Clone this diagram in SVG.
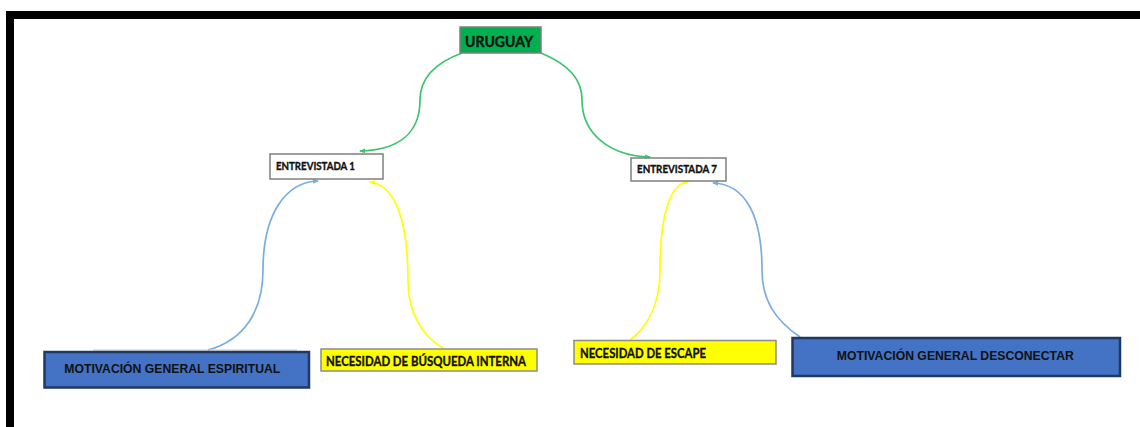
<svg xmlns="http://www.w3.org/2000/svg" width="1140" height="427" viewBox="0 0 1140 427">
<style>
.lbl{font-family:"Lato","Liberation Sans",sans-serif;font-weight:bold;fill:#111;stroke:#111;stroke-width:0.35}
.arl{font-family:"Liberation Sans",Arial,sans-serif;font-weight:bold;fill:#111}
.wbox{fill:#fff;stroke:#7f7f7f;stroke-width:1.5}
.ybox{fill:#ffff00;stroke:#8c8c8c;stroke-width:1.5}
.bbox{fill:#4472c4;stroke:#1f3864;stroke-width:2.5}
.c{fill:none;stroke-width:1.7}
.g{stroke:#3cc46e}
.b{stroke:#7aaee0}
.y{stroke:#ffff00}
</style>
<defs>
<marker id="ag" markerUnits="userSpaceOnUse" markerWidth="6" markerHeight="6" viewBox="0 0 6 6" refX="5" refY="3" orient="auto"><path d="M0,0.5 L6,3 L0,5.5 z" fill="#3cc46e"/></marker>
<marker id="ab" markerUnits="userSpaceOnUse" markerWidth="6" markerHeight="6" viewBox="0 0 6 6" refX="5" refY="3" orient="auto"><path d="M0,0.5 L6,3 L0,5.5 z" fill="#7aaee0"/></marker>
<marker id="ay" markerUnits="userSpaceOnUse" markerWidth="6" markerHeight="6" viewBox="0 0 6 6" refX="5" refY="3" orient="auto"><path d="M0,0.5 L6,3 L0,5.5 z" fill="#ffff00"/></marker>
</defs>
<rect width="1140" height="427" fill="#fff"/>
<g id="frame">
<rect x="6" y="11" width="1134" height="8" fill="#000"/>
<rect x="6" y="11" width="8" height="416" fill="#000"/>
</g>
<g id="connectors">
<path class="c g" d="M462,53 C432,64 420,80 420,100 C420,132 400,150 360,151" marker-end="url(#ag)"/>
<path class="c g" d="M541,53 C570,65 582,80 582,100 C582,134 610,156 650,157" marker-end="url(#ag)"/>
<path class="c b" d="M208,350 C245,340 263,310 263,270 C263,215 285,182 318,181" marker-end="url(#ab)"/>
<path class="c y" d="M443,348 C420,335 408,310 408,280 C408,220 395,185 370,182" marker-end="url(#ay)"/>
<path class="c y" d="M630,340 C650,325 660,300 660,270 C660,215 670,183 688,182" marker-end="url(#ay)"/>
<path class="c b" d="M800,337 C775,320 762,300 762,270 C762,215 745,184 713,183" marker-end="url(#ab)"/>
</g>
<g id="uruguay">
<rect x="460" y="27" width="81" height="26" fill="#00b050" stroke="#7f7f7f" stroke-width="1.5"/>
<text class="lbl" x="465" y="47.3" font-size="14.5" textLength="68" lengthAdjust="spacingAndGlyphs">URUGUAY</text>
</g>
<g id="entrevistada1">
<rect class="wbox" x="270" y="154" width="113" height="25"/>
<text class="lbl" x="276" y="169.5" font-size="10.5" textLength="79" lengthAdjust="spacingAndGlyphs">ENTREVISTADA 1</text>
</g>
<g id="entrevistada7">
<rect class="wbox" x="631" y="158" width="95" height="23"/>
<text class="lbl" x="637" y="173" font-size="10.5" textLength="80" lengthAdjust="spacingAndGlyphs">ENTREVISTADA 7</text>
</g>
<g id="motivacion-espiritual">
<line x1="93" y1="350" x2="297" y2="350" stroke="#c8c8c8" stroke-width="1"/>
<rect class="bbox" x="44.5" y="352" width="264.5" height="35.5"/>
<text class="arl" x="64.3" y="373.3" font-size="12.5" textLength="216" lengthAdjust="spacingAndGlyphs">MOTIVACIÓN GENERAL ESPIRITUAL</text>
</g>
<g id="necesidad-busqueda">
<rect class="ybox" x="321" y="349" width="216" height="22"/>
<text class="lbl" x="326" y="366" font-size="13" textLength="200" lengthAdjust="spacingAndGlyphs">NECESIDAD DE BÚSQUEDA INTERNA</text>
</g>
<g id="necesidad-escape">
<rect class="ybox" x="574" y="340.5" width="202" height="23.5"/>
<text class="lbl" x="580" y="358.3" font-size="13" textLength="126" lengthAdjust="spacingAndGlyphs">NECESIDAD DE ESCAPE</text>
</g>
<g id="motivacion-desconectar">
<rect class="bbox" x="792.5" y="338" width="327.5" height="38"/>
<text class="arl" x="836.8" y="359.5" font-size="13" textLength="237" lengthAdjust="spacingAndGlyphs">MOTIVACIÓN GENERAL DESCONECTAR</text>
</g>
</svg>
